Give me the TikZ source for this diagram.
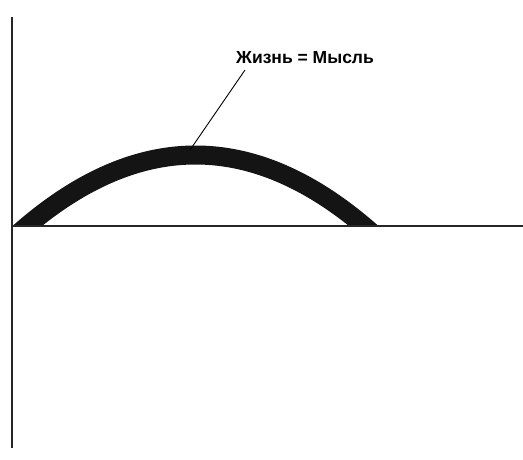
\documentclass[tikz,border=0pt]{standalone}
\usepackage{fontspec}
\setmainfont{Liberation Sans}
\begin{document}
\begin{tikzpicture}[x=1pt,y=-1pt,
  axis/.style={line width=1.6pt,draw=black!85},
  arcline/.style={line width=19pt,draw=black!92},
  leader/.style={line width=0.9pt,draw=black},
  lbl/.style={font=\bfseries\fontsize{17.5}{20}\selectfont,inner sep=0pt,anchor=west}]
\useasboundingbox[fill=white] (0,0) rectangle (523,459);
% axes
\coordinate (ytop) at (12,17);
\coordinate (ybot) at (12,448);
\coordinate (xl) at (12,226);
\coordinate (xr) at (523,226);
% arc, clipped by the horizontal axis
\begin{scope}
  \clip (12,0) rectangle (523,226);
  \draw[arcline] plot[domain=0:400,samples=140,smooth] (\x,{226-71*(1-((\x-195.5)/168.5)^2)});
\end{scope}
\draw[axis] (ytop) -- (ybot);
\draw[axis] (xl) -- (xr);
% label and leader
\node[lbl] (label) at (236,58) {Жизнь = Мысль};
\coordinate (peak) at (190,150);
\coordinate (lead) at (245,70);
\draw[leader] (lead) -- (peak);
\end{tikzpicture}
\end{document}
